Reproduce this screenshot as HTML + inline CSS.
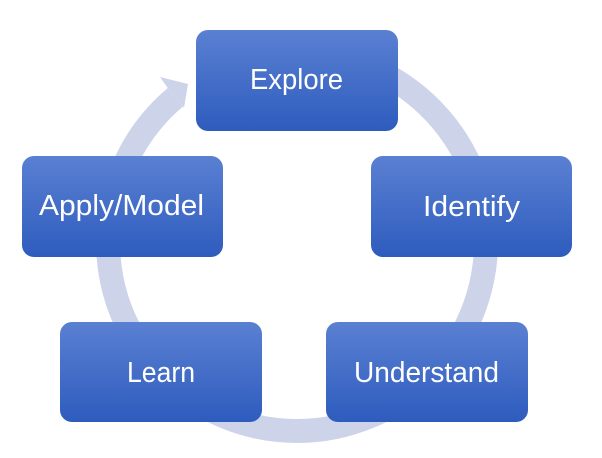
<!DOCTYPE html>
<html>
<head>
<meta charset="utf-8">
<style>
  html, body { margin: 0; padding: 0; background: #ffffff; }
  body { width: 602px; height: 458px; overflow: hidden; }
  svg { display: block; }
  text { font-family: "Liberation Sans", sans-serif; font-size: 29px; fill: #ffffff; }
</style>
</head>
<body>
<svg width="602" height="458" viewBox="0 0 602 458" xmlns="http://www.w3.org/2000/svg">
  <defs>
    <linearGradient id="g" x1="0" y1="0" x2="0" y2="1">
      <stop offset="0" stop-color="#5a80d2"/>
      <stop offset="1" stop-color="#2e5cbe"/>
    </linearGradient>
  </defs>
  <rect width="602" height="458" fill="#ffffff"/>

  <!-- ring arc -->
  <path d="M 280.5 53.7 A 189 189 0 1 1 175.5 97.2" fill="none" stroke="#cdd4ea" stroke-width="24"/>
  <!-- arrowhead -->
  <polygon points="167.8,88 160,77 188,84 184,108 183.2,106.4 175.5,97.2" fill="#cdd4ea"/>

  <!-- boxes -->
  <rect x="196" y="30" width="202" height="101" rx="12" ry="12" fill="url(#g)"/>
  <rect x="22" y="156" width="201" height="101" rx="12" ry="12" fill="url(#g)"/>
  <rect x="371" y="156" width="201" height="101" rx="12" ry="12" fill="url(#g)"/>
  <rect x="60" y="322" width="202" height="100" rx="12" ry="12" fill="url(#g)"/>
  <rect x="326" y="322" width="202" height="100" rx="12" ry="12" fill="url(#g)"/>

  <!-- labels -->
  <text x="250" y="89" textLength="93" lengthAdjust="spacingAndGlyphs">Explore</text>
  <text x="39" y="215" textLength="165" lengthAdjust="spacingAndGlyphs">Apply/Model</text>
  <text x="423" y="216" textLength="97" lengthAdjust="spacingAndGlyphs">Identify</text>
  <text x="127" y="382" textLength="68" lengthAdjust="spacingAndGlyphs">Learn</text>
  <text x="354" y="382" textLength="145" lengthAdjust="spacingAndGlyphs">Understand</text>
</svg>
</body>
</html>
